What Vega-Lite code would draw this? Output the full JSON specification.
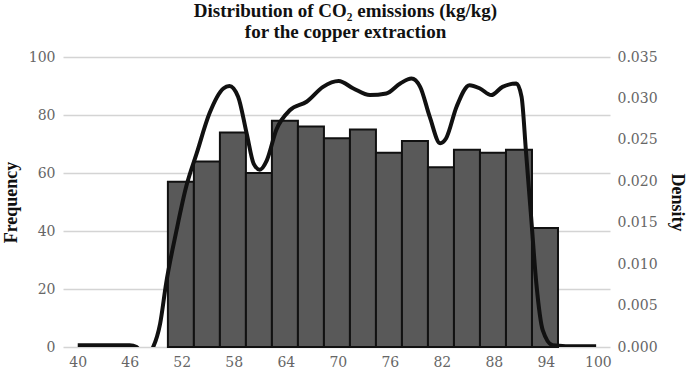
{
  "$schema": "https://vega.github.io/schema/vega-lite/v6.json",
  "width": 547,
  "height": 290,
  "autosize": {"type": "none"},
  "padding": {"left": 63, "top": 57, "right": 79, "bottom": 30},
  "config": {
    "view": {"stroke": null},
    "font": "Liberation Serif",
    "axis": {
      "labelFont": "DejaVu Serif",
      "labelFontSize": 14,
      "labelColor": "#666666",
      "titleFont": "Liberation Serif",
      "titleFontSize": 18,
      "titleFontWeight": "bold",
      "titleColor": "#111111",
      "domain": false,
      "ticks": false
    }
  },
  "title": {
    "text": ["Distribution of CO₂ emissions (kg/kg)", "for the copper extraction"],
    "font": "Liberation Serif",
    "fontSize": 19,
    "fontWeight": "bold",
    "color": "#111111",
    "anchor": "middle",
    "dx": 9,
    "lineHeight": 21,
    "offset": 8
  },
  "layer": [
    {
      "data": {
        "values": [
          {"start": 50.4, "end": 53.4, "frequency": 57},
          {"start": 53.4, "end": 56.4, "frequency": 64},
          {"start": 56.4, "end": 59.4, "frequency": 74},
          {"start": 59.4, "end": 62.4, "frequency": 60},
          {"start": 62.4, "end": 65.4, "frequency": 78},
          {"start": 65.4, "end": 68.4, "frequency": 76},
          {"start": 68.4, "end": 71.4, "frequency": 72},
          {"start": 71.4, "end": 74.4, "frequency": 75},
          {"start": 74.4, "end": 77.4, "frequency": 67},
          {"start": 77.4, "end": 80.4, "frequency": 71},
          {"start": 80.4, "end": 83.4, "frequency": 62},
          {"start": 83.4, "end": 86.4, "frequency": 68},
          {"start": 86.4, "end": 89.4, "frequency": 67},
          {"start": 89.4, "end": 92.4, "frequency": 68},
          {"start": 92.4, "end": 95.4, "frequency": 41}
        ]
      },
      "mark": {"type": "bar", "fill": "#595959", "stroke": "#111111", "strokeWidth": 2},
      "encoding": {
        "x": {
          "field": "start",
          "type": "quantitative",
          "scale": {"domain": [38.3, 101.4], "nice": false, "zero": false},
          "axis": {
            "title": null,
            "values": [40, 46, 52, 58, 64, 70, 76, 82, 88, 94, 100],
            "grid": false,
            "labelPadding": 8
          }
        },
        "x2": {"field": "end"},
        "y": {
          "field": "frequency",
          "type": "quantitative",
          "scale": {"domain": [0, 100], "nice": false},
          "axis": {
            "title": "Frequency",
            "values": [0, 20, 40, 60, 80, 100],
            "grid": true,
            "gridColor": "#d4d4d4",
            "gridWidth": 1.3,
            "labelPadding": 8,
            "titlePadding": 8
          }
        },
        "y2": {"datum": 0}
      }
    },
    {
      "data": {
        "values": [
          {"emission": 40, "density": 0.0002},
          {"emission": 43, "density": 0.0002},
          {"emission": 46, "density": 0.0002},
          {"emission": 46.8, "density": 0.0},
          {"emission": 47.5, "density": -0.001},
          {"emission": 48.2, "density": -0.0008},
          {"emission": 48.7, "density": 0.0},
          {"emission": 49.5, "density": 0.0028},
          {"emission": 50.2, "density": 0.0077},
          {"emission": 51.4, "density": 0.0141},
          {"emission": 52.5, "density": 0.0193},
          {"emission": 53.7, "density": 0.0233},
          {"emission": 55.2, "density": 0.0282},
          {"emission": 56.8, "density": 0.0312},
          {"emission": 57.5, "density": 0.0315},
          {"emission": 58.5, "density": 0.0302},
          {"emission": 59.5, "density": 0.0257},
          {"emission": 60.3, "density": 0.0221},
          {"emission": 61.0, "density": 0.0214},
          {"emission": 61.8, "density": 0.0225},
          {"emission": 62.9, "density": 0.0262},
          {"emission": 64.5, "density": 0.0286},
          {"emission": 66.4, "density": 0.0296},
          {"emission": 68.3, "density": 0.0314},
          {"emission": 70.1, "density": 0.0321},
          {"emission": 71.8, "density": 0.0312},
          {"emission": 73.7, "density": 0.0304},
          {"emission": 75.6, "density": 0.0306},
          {"emission": 77.2, "density": 0.0318},
          {"emission": 78.5, "density": 0.0324},
          {"emission": 79.5, "density": 0.0314},
          {"emission": 80.6, "density": 0.0278},
          {"emission": 81.8, "density": 0.0246},
          {"emission": 82.5, "density": 0.0252},
          {"emission": 83.7, "density": 0.029},
          {"emission": 85.2, "density": 0.0316},
          {"emission": 86.4, "density": 0.0312},
          {"emission": 87.7, "density": 0.0304},
          {"emission": 89.0, "density": 0.0314},
          {"emission": 90.6, "density": 0.0318},
          {"emission": 91.2, "density": 0.0302},
          {"emission": 91.7, "density": 0.0237},
          {"emission": 92.3, "density": 0.0157},
          {"emission": 92.9, "density": 0.0077},
          {"emission": 93.65, "density": 0.002},
          {"emission": 94.8, "density": 0.0002},
          {"emission": 96.3, "density": 0.0001},
          {"emission": 99.8, "density": 0.0001}
        ]
      },
      "mark": {
        "type": "line",
        "color": "#111111",
        "strokeWidth": 4,
        "interpolate": "monotone",
        "clip": true
      },
      "encoding": {
        "x": {"field": "emission", "type": "quantitative"},
        "y": {
          "field": "density",
          "type": "quantitative",
          "scale": {"domain": [0, 0.035], "nice": false},
          "axis": {
            "orient": "right",
            "title": "Density",
            "values": [0, 0.005, 0.01, 0.015, 0.02, 0.025, 0.03, 0.035],
            "format": ".3f",
            "grid": false,
            "labelPadding": 7,
            "titlePadding": 10
          }
        }
      }
    }
  ],
  "resolve": {"scale": {"y": "independent"}}
}
